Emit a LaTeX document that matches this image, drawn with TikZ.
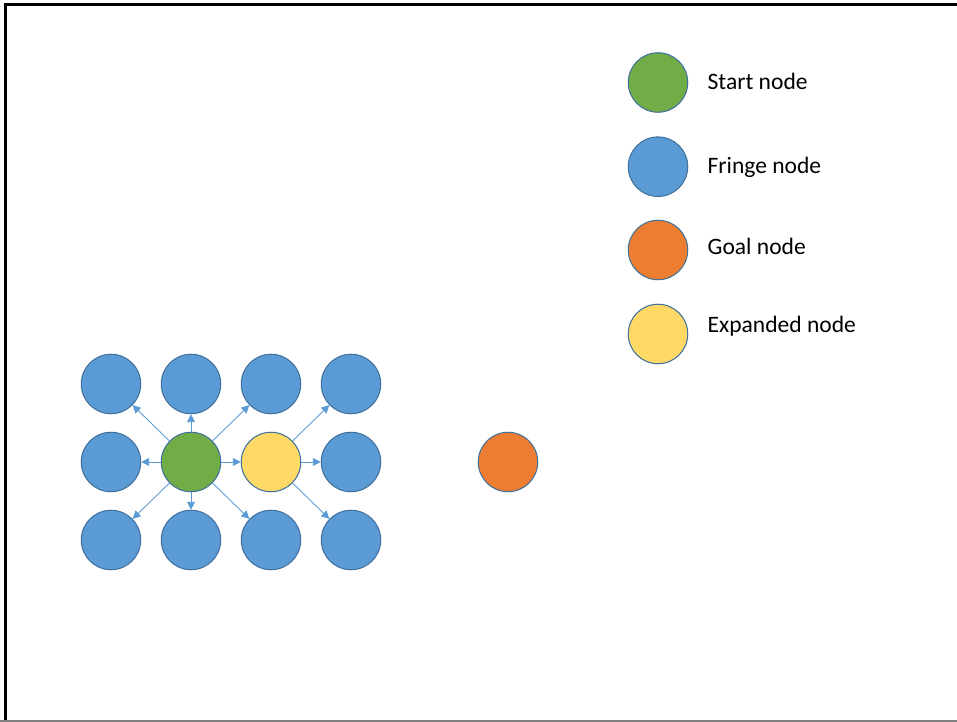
\documentclass[tikz,border=0pt]{standalone}
\usepackage{fontspec}
\setmainfont{Carlito}
\usetikzlibrary{arrows.meta,positioning}

\definecolor{fringeblue}{HTML}{5B9BD5}
\definecolor{edgeblue}{HTML}{41719C}
\definecolor{startgreen}{HTML}{70AD47}
\definecolor{goalorange}{HTML}{ED7D31}
\definecolor{expandedyellow}{HTML}{FFD966}

\tikzset{
  state/.style={circle, draw=edgeblue, line width=0.6pt, inner sep=0pt, minimum size=1.19cm},
  startnode/.style={state, fill=startgreen},
  fringenode/.style={state, fill=fringeblue},
  goalnode/.style={state, fill=goalorange},
  expandednode/.style={state, fill=expandedyellow},
  succ/.style={draw=fringeblue, line width=0.5pt, -{Triangle[length=4.5pt,width=4.5pt]}},
  keytext/.style={anchor=base west, inner sep=0pt, font=\fontsize{13.4}{16}\selectfont}
}

\begin{document}
\begin{tikzpicture}[x=0.02cm, y=-0.02cm]
    \useasboundingbox (0,0) rectangle (957,722);

    % frame
    \draw[line width=1.5pt] (5.2,722) -- (5.2,4.7) -- (957,4.7);
    \draw[gray, line width=0.8pt] (0,720.8) -- (957,720.8);

    % fringe nodes around the start node
    \foreach \col/\row in {1/1,2/1,3/1,4/1,1/2,4/2,1/3,2/3,3/3,4/3} {
        \node[fringenode] (s\col\row) at ({31+80*\col},{306+78*\row}) {};
    }

    % start node and expanded node
    \node[startnode] (s22) at (191,462) {};
    \node[expandednode] (s32) at (271,462) {};

    % goal node
    \node[goalnode] (goal) at (508,462) {};

    % successors of the start node
    \foreach \t in {11,21,31,12,13,23,33,32} {
        \draw[succ] (s22) -- (s\t);
    }

    % successors of the expanded node
    \foreach \t in {41,42,43} {
        \draw[succ] (s32) -- (s\t);
    }

    % legend (circle centre, text baseline)
    \foreach \name/\y/\b/\txt in {startnode/82.5/90/Start node, fringenode/166.7/174/Fringe node,
                                  goalnode/250/254.3/Goal node, expandednode/334/332.8/Expanded node} {
        \node[\name] (key\name) at (658,\y) {};
        \node[keytext] (key\name text) at (707.3,\b) {\txt};
    }
\end{tikzpicture}
\end{document}
